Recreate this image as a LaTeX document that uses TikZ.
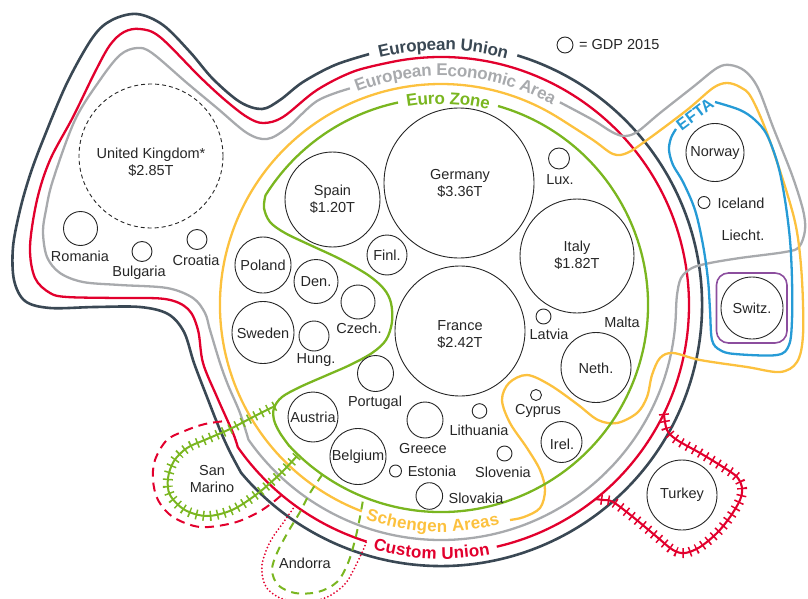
\documentclass[tikz,border=0pt]{standalone}
\usepackage{fontspec}
\setmainfont{Liberation Sans}
\usetikzlibrary{decorations.text}
\definecolor{euc}{RGB}{58,72,84}
\definecolor{cuc}{RGB}{226,0,45}
\definecolor{eeac}{RGB}{168,170,173}
\definecolor{schc}{RGB}{252,193,62}
\definecolor{ezc}{RGB}{122,182,32}
\definecolor{eftac}{RGB}{38,155,214}
\definecolor{swc}{RGB}{140,78,158}
\definecolor{txtc}{RGB}{38,38,38}
\newcommand{\mylblfont}{\fontsize{17}{17}\selectfont\bfseries}
\begin{document}
\begin{tikzpicture}[x=1pt,y=-1pt,
  bound/.style={line width=2.3pt, line join=round},
  country/.style={circle, draw=txtc, line width=0.9pt, inner sep=0pt},
  lbl/.style={text=txtc, font=\fontsize{14.5}{17}\selectfont, align=center, inner sep=0pt},
  tiesline/.style={line width=10pt, dash pattern=on 1.5pt off 5.6pt},
]
\useasboundingbox (0,0) rectangle (808,599);
\coordinate (C) at (441,305);

% European Union (dark)
\draw[bound, line width=2.6pt, euc] (C) ++(287:261) arc[start angle=287, end angle=500, radius=261]
 -- plot[smooth, tension=0.55] coordinates {(241.1,472.8) (230,452) (220,430) (207,397) (194,363) (184,332) (168,314) (140,307) (95,307) (50,308) (25,301) (14,280) (13,247) (20,210) (30,175) (43,140) (67,83) (93,37) (112,20) (137,14) (163,25) (190,52) (213,79) (240,102) (262,109) (280,100) (303,82) (335,65) (369.1,54.1)};
\path[decorate, decoration={text along path, text align=center, raise=-6pt, text={|\mylblfont\color{euc}|European Union}}] (C) ++(250:261) arc[start angle=250, end angle=291, radius=261];

% Custom Union (red)
\draw[bound, cuc] (C) ++(107.5:248) arc[start angle=107.5, end angle=145, radius=248]
 -- plot[smooth, tension=0.55] coordinates {(237.8,447.2) (233,433) (217,397) (203,363) (198,330) (188,309) (165,299) (115,298) (67,297) (50,293) (35,278) (30,247) (37,200) (50,160) (73,117) (95,72) (110,45) (124,32) (140,29) (160,37) (200,77) (225,100) (247,117) (263,123) (283,117) (317,90) (355,71) (397.9,60.8)}
 arc[start angle=260, end angle=437, radius=248];
\path[decorate, decoration={text along path, text align=center, raise=-6pt, text={|\mylblfont\color{cuc}|Custom Union}}] (C) ++(112.2:248) arc[start angle=112.2, end angle=72.2, radius=248];

% Turkey ties
\draw[cuc, tiesline] plot[smooth, tension=0.55] coordinates {(663.9,413.7) (667,430) (677,440) (700,453) (723,467) (737,477) (742,488) (740,500) (730,517) (717,533) (700,547) (685,553) (673,550) (657,537) (633,517) (613,502) (603,500) (595.4,499.1)};
\draw[cuc, line width=2.1pt] plot[smooth, tension=0.55] coordinates {(663.9,413.7) (667,430) (677,440) (700,453) (723,467) (737,477) (742,488) (740,500) (730,517) (717,533) (700,547) (685,553) (673,550) (657,537) (633,517) (613,502) (603,500) (595.4,499.1)};

% San Marino red dashed
\draw[cuc, line width=2pt, dash pattern=on 9pt off 6pt] plot[smooth, tension=0.55] coordinates {(222,421.4) (205,424) (187,430) (167,440) (155,460) (153,480) (158,500) (173,517) (200,527) (233,523) (257,513) (272,503) (281.6,495)};
% Andorra red dotted
\draw[cuc, line width=2pt, line cap=round, dash pattern=on 0pt off 3.6pt] plot[smooth, tension=0.55] coordinates {(295.2,505.6) (283,523) (270,542) (262,565) (265,585) (278,597) (300,602) (325,598) (345,584) (357,563) (364,548) (366.4,541.5)};

% European Economic Area (gray)
\draw[bound, eeac] plot[smooth, tension=0.55] coordinates {(559.9,102.3) (593,120) (612,132) (624,136) (637,132) (660,113) (693,87) (717,68) (730,65) (745,71) (758,88) (773,127) (792,175) (803,210) (805,230) (799,247) (785,252) (740,258) (710,263) (692,268) (681,278) (677,295) (675.9,313.2)}
 arc[start angle=2, end angle=145, radius=235]
 -- plot[smooth, tension=0.55] coordinates {(248.5,439.8) (240,413) (228,385) (220,363) (210,330) (205,313) (193,298) (167,288) (120,285) (83,282) (60,273) (47,257) (43,232) (46,210) (53,180) (75,120) (100,80) (120,55) (137,48) (152,53) (187,83) (217,108) (247,133) (267,139) (287,128) (317,101) (349.9,88.4)};
\path[decorate, decoration={text along path, text align=center, raise=-6pt, text={|\mylblfont\color{eeac}|European Economic Area}}] (C) ++(244:235) arc[start angle=244, end angle=303.6, radius=235];

% Schengen (yellow)
\draw[bound, schc] (C) ++(111:221) arc[start angle=111, end angle=302.6, radius=221]
 -- plot[smooth, tension=0.55] coordinates {(560.1,118.8) (593,140) (613,154) (627,153) (647,140) (687,110) (713,88) (727,83) (740,87) (751,97) (767,133) (787,193) (797,232) (802,280) (803,335) (797,362) (780,372) (747,367) (700,360) (673,353) (660,358) (652,375) (647,397) (637,413) (617,423) (598,420) (577,404) (550,385) (527,375) (509,383) (502,400) (510,423) (527,448) (540,470) (545,490) (540,508) (524,517) (510,520)};
\path[decorate, decoration={text along path, text align=center, raise=-6pt, text={|\mylblfont\color{schc}|Schengen Areas}}] (C) ++(112.2:221) arc[start angle=112.2, end angle=72.2, radius=221];

% Euro Zone (green)
\draw[bound, ezc] (C) ++(286:207) arc[start angle=286, end angle=497, radius=207]
 -- plot[smooth, tension=0.55] coordinates {(289.6,446.4) (280,433) (274,420) (274,408) (282,397) (300,387) (325,376) (350,365) (372,353) (386,340) (392,322) (391,303) (384,289) (368,275) (340,259) (310,245) (285,233) (270,222) (264,208) (265.5,195.3)}
 arc[start angle=212, end angle=258, radius=207];
\path[decorate, decoration={text along path, text align=center, raise=-6pt, text={|\mylblfont\color{ezc}|Euro Zone}}] (C) ++(254:207) arc[start angle=254, end angle=290, radius=207];

% San Marino green ties
\draw[ezc, tiesline] plot[smooth, tension=0.55] coordinates {(275,406) (253,417) (230,429) (207,439) (187,448) (174,461) (168,478) (170,495) (185,510) (207,516) (232,510) (257,494) (280,474) (297,456)};
\draw[ezc, line width=2pt] plot[smooth, tension=0.55] coordinates {(275,406) (253,417) (230,429) (207,439) (187,448) (174,461) (168,478) (170,495) (185,510) (207,516) (232,510) (257,494) (280,474) (297,456)};
% Andorra green dashed
\draw[ezc, line width=2pt, dash pattern=on 8pt off 6pt] plot[smooth, tension=0.55] coordinates {(322.3,474.6) (310,493) (300,512) (288,532) (277,553) (272,570) (278,585) (295,593) (318,592) (337,582) (348,563) (355,540) (360,517) (363.5,496.9)};

% EFTA (blue)
\draw[bound, eftac] plot[smooth, tension=0.55] coordinates {(715,102) (740,110) (755,120) (767,135) (778,165) (785,200) (790,240) (792,280) (792,320) (789,345) (777,355) (735,354) (720,350) (712,340) (710,310) (708,280) (703,245) (695,210) (683,182) (673,165) (669,150) (671,138) (676,129)};
\node[text=eftac, font=\fontsize{16.5}{16.5}\selectfont\bfseries, rotate=37] (efta) at (695,114) {EFTA};
% Switzerland box
\draw[swc, line width=1.6pt, rounded corners=12pt] (716.5,273) rectangle (787,343);

% countries
\node[country, dashed, dash pattern=on 4pt off 3pt, minimum size=144pt] (uk) at (151,156) {};
\node[lbl] (ukl) at (151,162) {United Kingdom*\\\$2.85T};
\node[country, minimum size=34pt] (ro) at (80.5,228.5) {};
\node[lbl] (rol) at (80,256) {Romania};
\node[country, minimum size=20pt] (bg) at (142,251.5) {};
\node[lbl] (bgl) at (139,273) {Bulgaria};
\node[country, minimum size=20pt] (hr) at (197,239.5) {};
\node[lbl] (hrl) at (196,260) {Croatia};
\node[country, minimum size=95pt] (es) at (332.5,199.5) {};
\node[lbl] (esl) at (332.5,199.5) {Spain\\\$1.20T};
\node[country, minimum size=150pt] (de) at (459,183) {};
\node[lbl] (del) at (460,183.5) {Germany\\\$3.36T};
\node[country, minimum size=21pt] (lu) at (559,158.5) {};
\node[lbl] (lul) at (560,180) {Lux.};
\node[country, minimum size=114pt] (it) at (577,256) {};
\node[lbl] (itl) at (577,255) {Italy\\\$1.82T};
\node[country, minimum size=58pt] (no) at (715,152.5) {};
\node[lbl] (nol) at (715,153) {Norway};
\node[country, minimum size=12pt] (is) at (704,202.5) {};
\node[lbl] (isl) at (741,203) {Iceland};
\node[lbl] (lil) at (743,235) {Liecht.};
\node[country, minimum size=62pt] (ch) at (752,308) {};
\node[lbl] (chl) at (752,308) {Switz.};
\node[lbl] (mtl) at (622,322) {Malta};
\node[country, minimum size=70pt] (nl) at (596,367.5) {};
\node[lbl] (nll) at (596,368) {Neth.};
\node[country, minimum size=15pt] (lv) at (543.5,316.5) {};
\node[lbl] (lvl) at (549,334) {Latvia};
\node[country, minimum size=130pt] (fr) at (460,331) {};
\node[lbl] (frl) at (460,334.5) {France\\\$2.42T};
\node[country, minimum size=11pt] (cy) at (536,395) {};
\node[lbl] (cyl) at (538,411) {Cyprus};
\node[country, minimum size=41pt] (ie) at (561.5,442) {};
\node[lbl] (iel) at (562,444) {Irel.};
\node[country, minimum size=14.6pt] (lt) at (479.5,411) {};
\node[lbl] (ltl) at (479,430) {Lithuania};
\node[country, minimum size=15pt] (si) at (504.5,453.5) {};
\node[lbl] (sil) at (503,472) {Slovenia};
\node[country, minimum size=26.6pt] (sk) at (429.3,496) {};
\node[lbl] (skl) at (476,498) {Slovakia};
\node[country, minimum size=12pt] (ee) at (395.5,471) {};
\node[lbl] (eel) at (432,471) {Estonia};
\node[country, minimum size=36pt] (gr) at (425,420) {};
\node[lbl] (grl) at (423,449) {Greece};
\node[country, minimum size=56pt] (be) at (358,456.5) {};
\node[lbl] (bel) at (358,457) {Belgium};
\node[country, minimum size=50pt] (at) at (313,417) {};
\node[lbl] (atl) at (313,417) {Austria};
\node[country, minimum size=36pt] (pt) at (375.5,373.5) {};
\node[lbl] (ptl) at (375,403) {Portugal};
\node[country, minimum size=30pt] (hu) at (314,336) {};
\node[lbl] (hul) at (316,360) {Hung.};
\node[country, minimum size=62pt] (se) at (263,332.5) {};
\node[lbl] (sel) at (263,333) {Sweden};
\node[country, minimum size=56pt] (pl) at (263,265) {};
\node[lbl] (pll) at (263,265) {Poland};
\node[country, minimum size=44pt] (dk) at (316,281.5) {};
\node[lbl] (dkl) at (316,282) {Den.};
\node[country, minimum size=34pt] (cz) at (358,302) {};
\node[lbl] (czl) at (359,328) {Czech.};
\node[country, minimum size=40pt] (fi) at (387,255) {};
\node[lbl] (fil) at (387,255) {Finl.};
\node[country, minimum size=70pt] (tr) at (682,495) {};
\node[lbl] (trl) at (682,495) {Turkey};
\node[lbl] (sml) at (212,479) {San\\Marino};
\node[lbl] (adl) at (305,563) {Andorra};
\node[country, minimum size=16pt] (lg) at (565,45) {};
\node[lbl, anchor=west] (lgt) at (579,45) {= GDP 2015};
\end{tikzpicture}
\end{document}
